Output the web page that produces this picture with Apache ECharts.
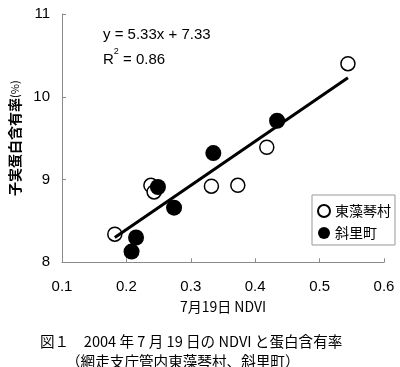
<!DOCTYPE html>
<html><head><meta charset="utf-8">
<script src="https://cdn.jsdelivr.net/npm/echarts@6/dist/echarts.min.js"></script>
<style>html,body{margin:0;padding:0;background:#fff}#c{width:400px;height:367px}</style>
</head><body><div id="c"></div>
<script>
// Data
const seriesNames = ['東藻琴村', '斜里町'];
const higashimokotoX = [0.182, 0.238, 0.243, 0.332, 0.373, 0.418, 0.544];
const higashimokotoY = [8.34, 8.93, 8.85, 8.92, 8.93, 9.39, 10.40];
const shariX = [0.208, 0.215, 0.249, 0.274, 0.335, 0.434];
const shariY = [8.13, 8.30, 8.91, 8.66, 9.32, 9.71];
const trendSlope = [5.33];
const trendIntercept = [7.33];
const trendRangeX = [0.182, 0.544];
const xTicks = [0.1, 0.2, 0.3, 0.4, 0.5, 0.6];
const yTicks = [8, 9, 10, 11];

const cjk = '"Noto Sans CJK JP", "Noto Sans", sans-serif';
const latin = '"Liberation Sans", Arial, sans-serif';
const axisGrey = '#8a8a8a';

const pts = (xs, ys) => xs.map((x, i) => [x, ys[i]]);
const trendData = trendRangeX.map(x => [x, trendSlope[0] * x + trendIntercept[0]]);

const chart = echarts.init(document.getElementById('c'), null, {renderer: 'canvas'});
chart.setOption({
  animation: false,
  backgroundColor: '#fff',
  grid: {left: 57.5, right: 16, top: 14, bottom: 104.7, containLabel: false},
  xAxis: {
    type: 'value', min: xTicks[0], max: xTicks[xTicks.length - 1], interval: 0.1,
    name: '7月19日 NDVI', nameLocation: 'middle', nameGap: 36,
    nameTextStyle: {fontFamily: cjk, fontSize: 14, color: '#000'},
    axisLine: {show: true, lineStyle: {color: axisGrey, width: 1}},
    axisTick: {show: true, inside: true, length: 4, lineStyle: {color: axisGrey}},
    axisLabel: {margin: 17, fontFamily: latin, fontSize: 15, color: '#000',
      formatter: v => (Math.round(v * 10) / 10).toFixed(1)},
    splitLine: {show: false}
  },
  yAxis: {
    type: 'value', min: yTicks[0], max: yTicks[yTicks.length - 1], interval: 1,
    name: '{a|子実蛋白含有率}{b|(%)}', nameLocation: 'middle', nameGap: 40,
    nameTextStyle: {fontFamily: cjk, color: '#000',
      rich: {a: {fontFamily: cjk, fontSize: 14, fontWeight: 'bold', color: '#000'},
             b: {fontFamily: cjk, fontSize: 11, color: '#000'}}},
    axisLine: {show: true, lineStyle: {color: axisGrey, width: 1}},
    axisTick: {show: true, inside: true, length: 4, lineStyle: {color: axisGrey}},
    axisLabel: {margin: 12, fontFamily: latin, fontSize: 15, color: '#000'},
    splitLine: {show: false}
  },
  legend: {
    orient: 'vertical', left: 312, top: 195,
    padding: [9, 4, 5, 5], itemGap: 8, itemWidth: 12, itemHeight: 12,
    borderColor: '#999', borderWidth: 1, backgroundColor: '#fff',
    textStyle: {fontFamily: cjk, fontSize: 14, color: '#000'},
    data: seriesNames
  },
  series: [
    {
      name: seriesNames[0], type: 'scatter', z: 2, symbol: 'circle', symbolSize: 14,
      itemStyle: {color: '#fff', borderColor: '#000', borderWidth: 1.5, opacity: 1},
      data: pts(higashimokotoX, higashimokotoY)
    },
    {
      name: 'trend', type: 'line', z: 3, symbol: 'none', silent: true,
      lineStyle: {color: '#000', width: 3},
      data: trendData
    },
    {
      name: seriesNames[1], type: 'scatter', z: 4, symbol: 'circle', symbolSize: 16,
      itemStyle: {color: '#000', opacity: 1},
      data: pts(shariX, shariY)
    }
  ],
  graphic: [
    {type: 'text', left: 103, top: 27, z: 10,
      style: {text: 'y = 5.33x + 7.33', font: '15px ' + latin, fill: '#000'}},
    {type: 'text', left: 103, top: 47, z: 10,
      style: {text: '{n|R}{s|2}{n| = 0.86}', fill: '#000',
        rich: {n: {font: '15px ' + latin, lineHeight: 20, verticalAlign: 'bottom'},
               s: {font: '9px ' + latin, lineHeight: 20, verticalAlign: 'top'}}}},
    {type: 'text', x: 40, y: 341, z: 10,
      style: {text: '図１　2004 年 7 月 19 日の NDVI と蛋白含有率', font: '14.6px ' + cjk, fill: '#000',
        align: 'left', verticalAlign: 'middle'}},
    {type: 'text', x: 66, y: 361.5, z: 10,
      style: {text: '（網走支庁管内東藻琴村、斜里町）', font: '14.6px ' + cjk, fill: '#000',
        align: 'left', verticalAlign: 'middle'}}
  ]
});
</script></body></html>
